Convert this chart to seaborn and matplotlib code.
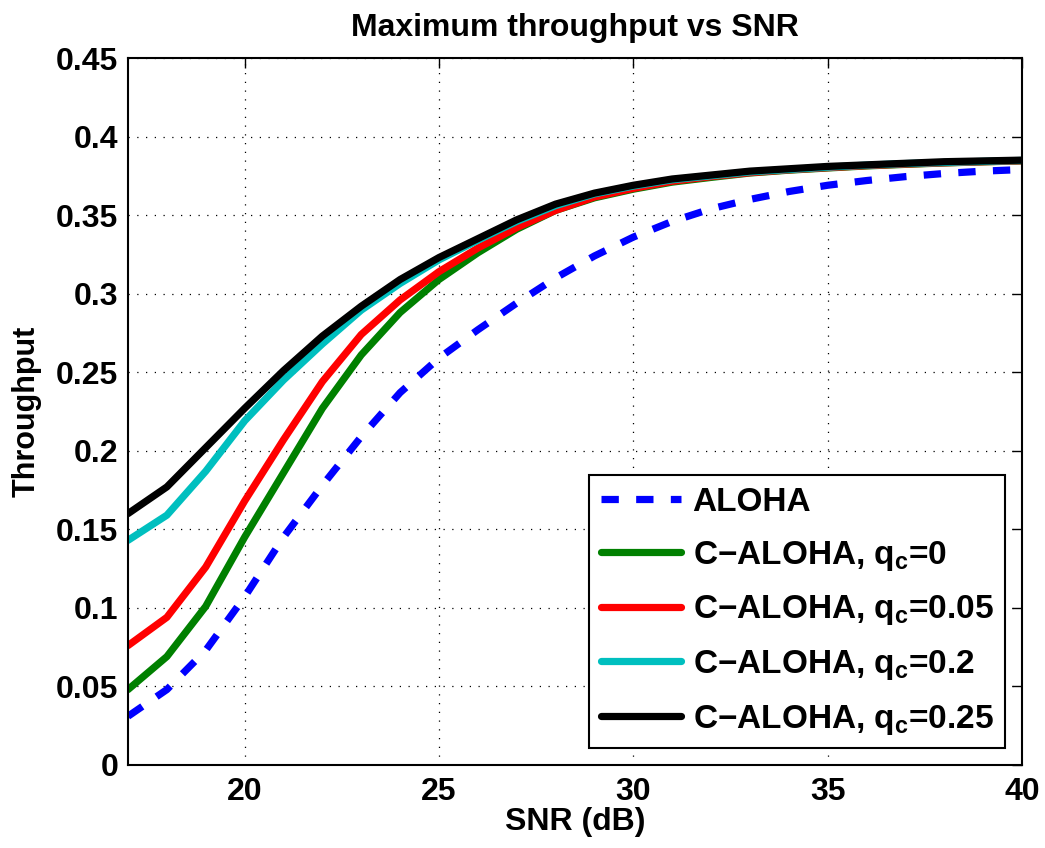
import numpy as np
import pandas as pd
import matplotlib
matplotlib.use("Agg")
import matplotlib.pyplot as plt
import seaborn as sns

snr = list(range(17, 41))
aloha = [0.031, 0.048, 0.073, 0.107, 0.145, 0.178, 0.209, 0.237, 0.259, 0.277, 0.294, 0.310,
         0.324, 0.336, 0.346, 0.354, 0.360, 0.365, 0.369, 0.372, 0.3745, 0.3765, 0.378, 0.379]
c_q0 = [0.048, 0.069, 0.101, 0.145, 0.186, 0.227, 0.261, 0.288, 0.309, 0.326, 0.341, 0.353,
        0.361, 0.3665, 0.371, 0.374, 0.3768, 0.3786, 0.380, 0.3813, 0.3823, 0.3832, 0.3839, 0.3845]
c_q005 = [0.076, 0.094, 0.126, 0.168, 0.207, 0.244, 0.274, 0.296, 0.314, 0.329, 0.342, 0.353,
          0.3615, 0.367, 0.3715, 0.3745, 0.377, 0.3788, 0.3802, 0.3815, 0.3825, 0.3833, 0.384, 0.3846]
c_q02 = [0.143, 0.159, 0.187, 0.219, 0.245, 0.268, 0.2895, 0.3065, 0.3215, 0.334, 0.346, 0.356,
         0.3635, 0.3685, 0.3725, 0.375, 0.3775, 0.379, 0.3805, 0.3818, 0.3828, 0.3835, 0.3842, 0.3848]
c_q025 = [0.160, 0.177, 0.202, 0.227, 0.251, 0.273, 0.292, 0.309, 0.323, 0.335, 0.347, 0.357,
          0.364, 0.369, 0.373, 0.3755, 0.378, 0.3795, 0.381, 0.382, 0.383, 0.384, 0.3845, 0.385]

labels = ["ALOHA",
          "C\u2212ALOHA, q$_\\mathrm{c}$=0",
          "C\u2212ALOHA, q$_\\mathrm{c}$=0.05",
          "C\u2212ALOHA, q$_\\mathrm{c}$=0.2",
          "C\u2212ALOHA, q$_\\mathrm{c}$=0.25"]
series = [aloha, c_q0, c_q005, c_q02, c_q025]
colors = ["#0000ff", "#008000", "#ff0000", "#00bfbf", "#000000"]
xticks = [20, 25, 30, 35, 40]
yticks = [0, 0.05, 0.1, 0.15, 0.2, 0.25, 0.3, 0.35, 0.4, 0.45]
ytick_labels = ["0", "0.05", "0.1", "0.15", "0.2", "0.25", "0.3", "0.35", "0.4", "0.45"]

sns.set_theme(style="white")
plt.rcParams["font.family"] = ["Liberation Sans", "DejaVu Sans"]
plt.rcParams["font.weight"] = "bold"
plt.rcParams["text.color"] = "black"
plt.rcParams["axes.labelcolor"] = "black"
plt.rcParams["xtick.color"] = "black"
plt.rcParams["ytick.color"] = "black"
plt.rcParams["mathtext.fontset"] = "custom"
plt.rcParams["mathtext.rm"] = "Liberation Sans:bold"
plt.rcParams["mathtext.it"] = "Liberation Sans:bold"
plt.rcParams["mathtext.bf"] = "Liberation Sans:bold"

fig = plt.figure(figsize=(10.45, 8.48), dpi=100)
ax = fig.add_axes([0.1225, 0.0979, 0.8555, 0.8337])

for lab, vals, col in zip(labels, series, colors):
    df = pd.DataFrame({"SNR": snr, "Throughput": vals})
    sns.lineplot(data=df, x="SNR", y="Throughput", ax=ax, color=col, linewidth=5.2,
                 label=lab)

ax.lines[0].set_dashes((2.4, 2.4))
ax.lines[0].set_dash_capstyle("butt")

ax.set_xlim(17, 40)
ax.set_ylim(0, 0.45)
ax.set_xticks(xticks)
ax.set_yticks(yticks)
ax.set_yticklabels(ytick_labels)
ax.tick_params(direction="in", length=7, width=1, top=True, right=True, labelsize=23,
               colors="black")
ax.tick_params(axis="y", pad=7)
ax.tick_params(axis="x", pad=9)
for lbl in ax.get_xticklabels() + ax.get_yticklabels():
    lbl.set_fontweight("bold")
ax.grid(True, color="black", linestyle=(0, (1, 6)), linewidth=0.9)
for s in ax.spines.values():
    s.set_visible(True)
    s.set_color("black")
    s.set_linewidth(1.5)

ax.set_xlabel("SNR (dB)", fontsize=23, fontweight="bold", labelpad=0)
ax.set_ylabel("Throughput", fontsize=22, fontweight="bold", labelpad=10)
ax.set_title("Maximum throughput vs SNR", fontsize=23, fontweight="bold", pad=16)

leg = ax.legend(loc="lower right", fontsize=24, frameon=True, fancybox=False,
                edgecolor="black", framealpha=1, handlelength=2.4, labelspacing=0.62,
                borderaxespad=0.5, handletextpad=0.35, borderpad=0.35)
leg.get_frame().set_linewidth(1.5)
for t in leg.get_texts():
    t.set_fontweight("bold")

fig.savefig("out.png", dpi=100)
